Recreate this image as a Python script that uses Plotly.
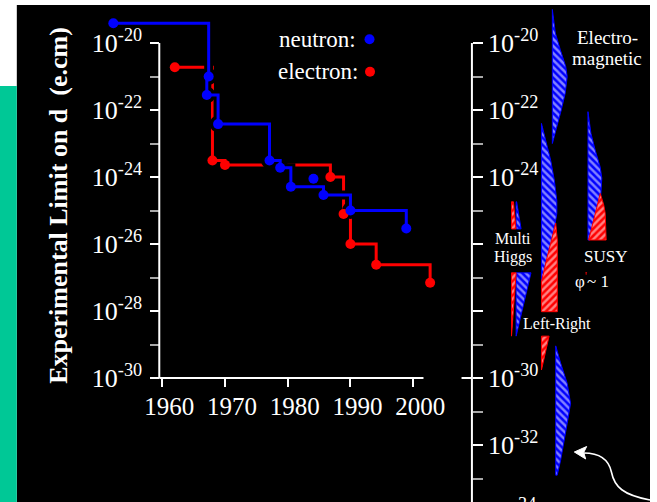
import plotly.graph_objects as go

# ---------------- data ----------------
# Experimental upper limits on the electric dipole moment d (e.cm)
neutron_year = [1952.2, 1967.4, 1967.1, 1968.9, 1977.1, 1978.8, 1980.5, 1985.7, 1990.0, 1998.9]
neutron_limit = [3.9e-20, 1.0e-21, 2.8e-22, 3.8e-23, 3.1e-24, 1.9e-24, 5.1e-25, 2.9e-25, 1.0e-25, 2.9e-26]
neutron_other_year = [1984.1]
neutron_other_limit = [8.9e-25]

electron_year = [1962.0, 1968.0, 1970.0, 1986.8, 1988.9, 1990.0, 1994.1, 2002.7]
electron_limit = [1.9e-21, 3.1e-24, 2.3e-24, 1.0e-24, 7.9e-26, 1.0e-26, 2.4e-27, 7.0e-28]

year_ticks = [1960, 1970, 1980, 1990, 2000]
left_major_exp = [-20, -22, -24, -26, -28, -30]
left_minor_exp = [-21, -23, -25, -27, -29]
right_major_exp = [-20, -22, -24, -26, -28, -30, -32]
right_labelled_exp = [-20, -22, -24, -30, -32]
right_minor_exp = [-21, -23, -25, -27, -29, -31, -33]

# Theory predictions: log10(d) profiles with left/right widths of each band
em_n_exp = [-19.0, -19.7, -20.2, -20.7, -21.0, -21.5, -22.0, -22.5, -23.0]
em_n_right = [0, 3, 8, 13.5, 15, 13, 9, 4.5, 0]

lr_n_exp = [-22.4, -22.9, -23.5, -24.1, -24.7, -25.1, -25.7, -26.3, -26.8, -27.1]
lr_n_right = [0, 4.3, 9.3, 13, 15.5, 15.5, 12, 7.5, 3.5, 0]
lr_e_exp = [-25.38, -25.88, -26.48, -27.13, -28.02]
lr_e_left = [14.4, 10, 5, 0, 0]
lr_e_right = [14.4, 16, 16, 16, 16]
lr_e2_exp = [-28.75, -29.76]
lr_e2_right = [7.7, 0]

mh_e_exp = [-24.74, -25.55]
mh_e_right = [2, 4.5]
mh_n_exp = [-24.74, -25.55]
mh_n_right = [0.5, 5]
mh_e2_exp = [-26.86, -28.75]
mh_e2_right = [4.7, 0]
mh_n2_exp = [-26.86, -28.75]
mh_n2_right = [15, 0.5]

susy_n_exp = [-22.05, -22.7, -23.2, -23.7, -24.03, -24.54, -25.13, -25.58, -25.88]
susy_n_right = [0, 3, 7.3, 12.3, 14, 13, 9, 5, 2]
susy_e_exp = [-24.49, -24.84, -25.08, -25.58, -25.88]
susy_e_left = [12.4, 9.5, 7.5, 3.4, 0.7]
susy_e_right = [12.4, 16, 17.4, 18.4, 18.4]

sm_n_exp = [-29.04, -29.56, -30.16, -30.76, -31.35, -31.95, -32.45, -32.9]
sm_n_right = [0, 5, 11.6, 15, 11.6, 8.3, 5, 1.5]

# ---------------- layout helpers ----------------
W, H = 657, 502
Y_TOP, Y_BOT = -18.716, -33.701
X_RANGE = [1950, 2004]
X_DOM = [100.6 / W, 443.0 / W]
FONT = "Liberation Serif"
BLUE, RED = "#0000ff", "#ff0000"


def px(x):
    return x / W


def py(y):
    return 1 - y / H


def exp_to_paper(e):
    return (e - Y_BOT) / (Y_TOP - Y_BOT)


def sup_label(e):
    return "10<sup>%d</sup>" % e


fig = go.Figure()

# ---- left panel: measured limits ----
fig.add_trace(go.Scatter(x=electron_year, y=electron_limit, mode="lines",
                         line=dict(color=RED, width=3, shape="hv"),
                         xaxis="x", yaxis="y", hoverinfo="skip"))
# black outline behind the neutron staircase
fig.add_trace(go.Scatter(x=neutron_year, y=neutron_limit, mode="lines+markers",
                         line=dict(color="black", width=9, shape="hv"),
                         marker=dict(color="black", size=17),
                         xaxis="x", yaxis="y", hoverinfo="skip"))
fig.add_trace(go.Scatter(x=electron_year, y=electron_limit, mode="markers",
                         marker=dict(color=RED, size=10),
                         xaxis="x", yaxis="y", hoverinfo="skip"))
fig.add_trace(go.Scatter(x=neutron_year, y=neutron_limit, mode="lines+markers",
                         line=dict(color=BLUE, width=3, shape="hv"),
                         marker=dict(color=BLUE, size=10),
                         xaxis="x", yaxis="y", hoverinfo="skip"))
fig.add_trace(go.Scatter(x=neutron_other_year, y=neutron_other_limit, mode="markers",
                         marker=dict(color=BLUE, size=10),
                         xaxis="x", yaxis="y", hoverinfo="skip"))


# ---- right panel: model predictions ----
def band(base, exps, right, left=None, color=BLUE, hatch="\\"):
    if left is None:
        left = [0] * len(exps)
    xs = [base + r for r in right] + [base + l for l in reversed(left)]
    ys = [10 ** e for e in exps] + [10 ** e for e in reversed(exps)]
    xs.append(xs[0])
    ys.append(ys[0])
    fig.add_trace(go.Scatter(
        x=xs, y=ys, mode="lines", fill="toself",
        line=dict(color=color, width=1),
        fillpattern=dict(shape=hatch, bgcolor=color, fgcolor="white",
                         size=5, solidity=0.5),
        xaxis="x2", yaxis="y2", hoverinfo="skip"))


COL_MH_E, COL_MH_N = 40.0, 44.7
COL_LR, COL_EM, COL_SM, COL_SUSY = 70.3, 81.3, 84.7, 117.3

band(COL_EM, em_n_exp, em_n_right)
band(COL_LR, lr_n_exp, lr_n_right)
band(COL_LR, lr_e_exp, lr_e_right, lr_e_left, color=RED, hatch="/")
band(COL_LR, lr_e2_exp, lr_e2_right, color=RED, hatch="/")
band(COL_MH_N, mh_n_exp, mh_n_right)
band(COL_MH_E, mh_e_exp, mh_e_right, color=RED, hatch="/")
band(COL_MH_N, mh_n2_exp, mh_n2_right)
band(COL_MH_E, mh_e2_exp, mh_e2_right, color=RED, hatch="/")
band(COL_SUSY, susy_n_exp, susy_n_right)
band(COL_SUSY, susy_e_exp, susy_e_right, susy_e_left, color=RED, hatch="/")
band(COL_SM, sm_n_exp, sm_n_right)

tickfont = dict(family=FONT, size=26, color="white")


def log_axis(major, labelled, minor, position, side, ticklen, standoff):
    return dict(
        type="log", range=[Y_BOT, Y_TOP], domain=[0, 1], anchor="free",
        position=position, side=side,
        tickmode="array", tickvals=[10 ** e for e in major],
        ticktext=[sup_label(e) if e in labelled else "" for e in major],
        ticks="outside", ticklen=ticklen, tickwidth=2, tickcolor="white",
        tickfont=tickfont, ticklabelstandoff=standoff,
        minor=dict(tickmode="array", tickvals=[10 ** e for e in minor],
                   ticks="outside", ticklen=ticklen, tickcolor="#a8a8a8", tickwidth=2),
        showgrid=False, zeroline=False, showline=False,
    )


fig.update_layout(
    width=W, height=H, margin=dict(l=0, r=0, t=0, b=0),
    paper_bgcolor="white", plot_bgcolor="rgba(0,0,0,0)",
    showlegend=False,
    xaxis=dict(domain=X_DOM, range=X_RANGE, anchor="free",
               position=exp_to_paper(-30), tickmode="array", tickvals=year_ticks,
               ticks="outside", ticklen=8, tickwidth=2, tickcolor="white",
               tickfont=dict(family=FONT, size=25, color="white"),
               ticklabelshift=7, ticklabelstandoff=-2,
               showgrid=False, zeroline=False, showline=False),
    yaxis=log_axis(left_major_exp, left_major_exp, left_minor_exp, 161 / W, "left", 9, 3),
    xaxis2=dict(domain=[477 / W, 1], range=[0, 180], anchor="y2", visible=False),
    yaxis2=log_axis(right_major_exp, right_labelled_exp, right_minor_exp, 477 / W, "right", 10, 0),
)

shapes = [
    # page background panels
    dict(type="rect", xref="paper", yref="paper", x0=px(17), x1=1, y0=0, y1=py(5),
         fillcolor="black", line=dict(width=0), layer="below"),
    dict(type="rect", xref="paper", yref="paper", x0=0, x1=px(17), y0=0, y1=py(86),
         fillcolor="#00c896", line=dict(width=0), layer="below"),
    # axis lines
    dict(type="line", xref="paper", yref="paper", x0=px(161), x1=px(161),
         y0=exp_to_paper(-20), y1=exp_to_paper(-30), line=dict(color="white", width=2)),
    dict(type="line", xref="x", yref="paper", x0=1959.53, x1=2001.64,
         y0=exp_to_paper(-30), y1=exp_to_paper(-30), line=dict(color="white", width=2)),
    dict(type="line", xref="paper", yref="paper", x0=px(477), x1=px(477),
         y0=exp_to_paper(-20), y1=0, line=dict(color="white", width=2)),
    dict(type="line", xref="paper", yref="paper", x0=px(466.5), x1=px(477),
         y0=exp_to_paper(-30), y1=exp_to_paper(-30), line=dict(color="white", width=2)),
    # legend dots
    dict(type="circle", xref="paper", yref="paper", xsizemode="pixel", ysizemode="pixel",
         xanchor=px(373.5), yanchor=py(39.3), x0=-5, x1=5, y0=-5, y1=5,
         fillcolor=BLUE, line=dict(width=0)),
    dict(type="circle", xref="paper", yref="paper", xsizemode="pixel", ysizemode="pixel",
         xanchor=px(374), yanchor=py(71.7), x0=-5, x1=5, y0=-5, y1=5,
         fillcolor=RED, line=dict(width=0)),
]


def path_from(points, close=False):
    cmds = []
    for cmd, pts in points:
        coords = " ".join("%.5f,%.5f" % (px(a), py(b)) for a, b in pts)
        cmds.append(cmd + " " + coords)
    s = " ".join(cmds)
    return s + (" Z" if close else "")


# curved pointer towards the Standard Model band
shapes.append(dict(type="path", xref="paper", yref="paper",
                   path=path_from([("M", [(657, 500)]),
                                   ("C", [(630, 495), (621, 487), (618, 472)]),
                                   ("C", [(615, 458), (604, 453), (590, 453)])]),
                   line=dict(color="white", width=1.6)))
shapes.append(dict(type="path", xref="paper", yref="paper",
                   path=path_from([("M", [(580.5, 452)]), ("L", [(593, 446.5)]),
                                   ("L", [(590, 452.5)]), ("L", [(592, 459)])], close=True),
                   fillcolor="white", line=dict(color="white", width=1)))
fig.update_layout(shapes=shapes)


def label(text, x, y, size, xanchor="center"):
    fig.add_annotation(text=text, x=px(x), y=py(y), xref="paper", yref="paper",
                       xanchor=xanchor, yanchor="middle", showarrow=False,
                       font=dict(family=FONT, size=size, color="white"))


label("neutron:", 362, 39.5, 23, xanchor="right")
label("electron:", 363.5, 72, 23, xanchor="right")
label("Electro-", 614, 37, 19)
label("magnetic", 614, 58, 19)
label("Multi", 519, 238.5, 16)
label("Higgs", 518.5, 256.5, 16)
label("Left-Right", 563.5, 324, 16)
label("SUSY", 612, 256, 17)
label("φ<sup><span style='color:#ff0000'>'</span></sup>~ 1", 598.5, 280, 17)
# next decade label of the right scale, running off the bottom edge
label("10<sup>-34</sup>", 489, 510, 26, xanchor="left")

fig.add_annotation(text="<b>Experimental Limit on d\u00a0\u00a0(e.cm)</b>",
                   x=px(59), y=py(205.5), xref="paper", yref="paper",
                   textangle=-90, showarrow=False, xanchor="center", yanchor="middle",
                   font=dict(family=FONT, size=26, color="white"))

fig.write_html("out.html")
